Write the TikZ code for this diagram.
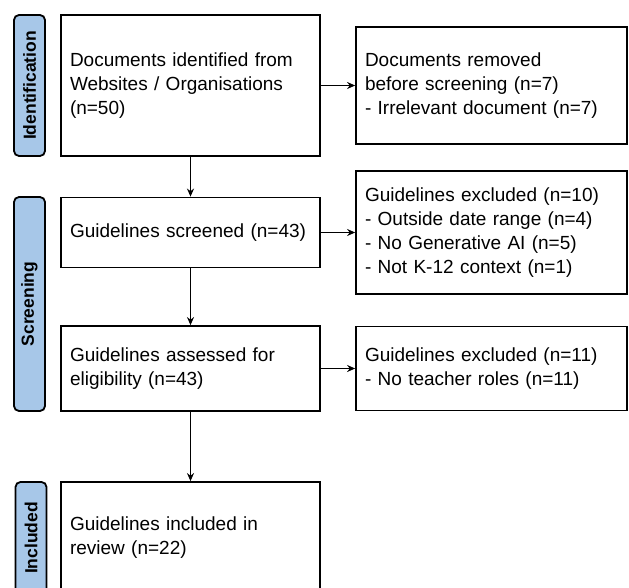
\documentclass[tikz,border=0pt]{standalone}
\usepackage{fontspec}
\setmainfont{Liberation Sans}
\usetikzlibrary{arrows.meta}

\definecolor{stagefill}{RGB}{167,199,232}

\tikzset{
  flowbox/.style = {draw, line width = 1.8pt, align = left, inner xsep = 9pt,
  font = \fontsize{19}{24}\selectfont},
  stage/.style = {draw, line width = 1.8pt, fill = stagefill,
  rounded corners = 5pt, rotate = 90, minimum height = 31pt,
  font = \fontsize{17.5}{20}\selectfont\bfseries},
  flow/.style = {line width = 1.3pt, -{Stealth[length = 8pt, width = 7pt]}}
}

\begin{document}
\begin{tikzpicture}[x = 1pt, y = -1pt]
  \useasboundingbox (0, 0) rectangle (629, 588);
  \clip (0, 0) rectangle (629, 588);

  \node[stage, minimum width = 141pt] (ident) at (29.5, 85.5) {Identification};
  \node[stage, minimum width = 214pt] (screen) at (29.5, 304) {Screening};
  \node[stage, minimum width = 112pt] (incl) at (31, 538) {Included};

  \node[flowbox, text width = 241pt, minimum height = 141pt] (found)
  at (190.5, 85.5) {Documents identified from\\Websites / Organisations\\(n=50)};
  \node[flowbox, text width = 253pt, minimum height = 117pt] (removed)
  at (491.5, 85.5) {Documents removed\\before screening (n=7)\\- Irrelevant document (n=7)};

  \node[flowbox, text width = 241pt, minimum height = 70pt] (screened)
  at (190.5, 232.5) {Guidelines screened (n=43)};
  \node[flowbox, text width = 253pt, minimum height = 123pt] (excluded)
  at (491.5, 232.5) {Guidelines excluded (n=10)\\- Outside date range (n=4)\\
  - No Generative AI (n=5)\\- Not K-12 context (n=1)};

  \node[flowbox, text width = 241pt, minimum height = 85pt] (assessed)
  at (190.5, 368.5) {Guidelines assessed for\\eligibility (n=43)};
  \node[flowbox, text width = 253pt, minimum height = 84pt] (noroles)
  at (491.5, 368.5) {Guidelines excluded (n=11)\\- No teacher roles (n=11)};

  \node[flowbox, text width = 241pt, minimum height = 112pt] (included)
  at (190.5, 538) {Guidelines included in\\review (n=22)};

  \draw[flow] (found) -- (removed);
  \draw[flow] (found) -- (screened);
  \draw[flow] (screened) -- (excluded);
  \draw[flow] (screened) -- (assessed);
  \draw[flow] (assessed) -- (noroles);
  \draw[flow] (assessed) -- (included);
\end{tikzpicture}
\end{document}
